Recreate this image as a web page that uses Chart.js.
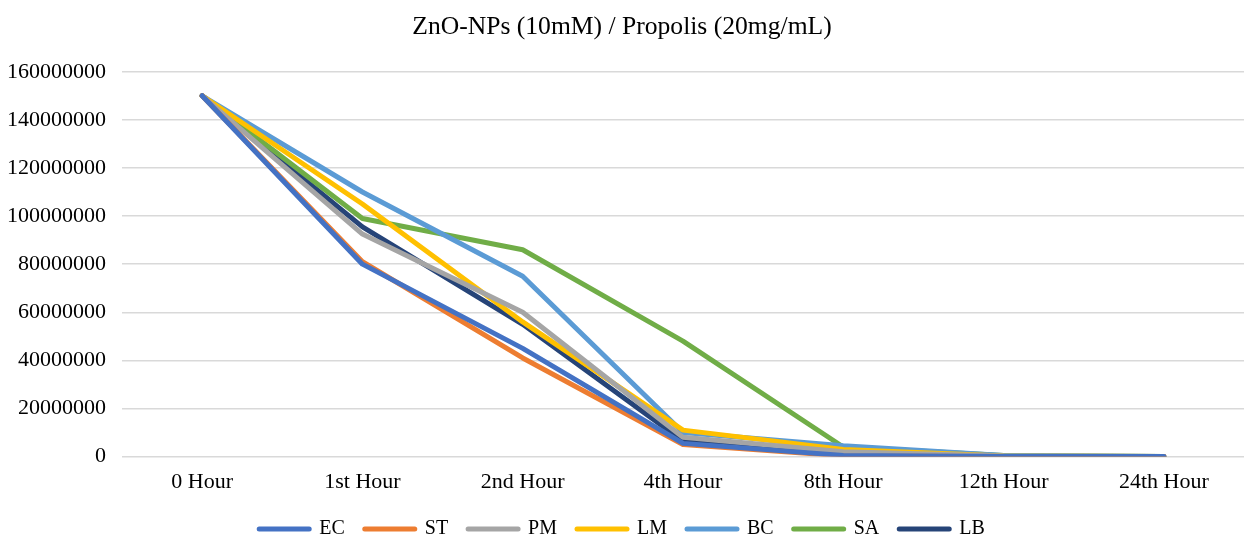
<!DOCTYPE html>
<html>
<head>
<meta charset="utf-8">
<script src="https://cdn.jsdelivr.net/npm/chart.js@4"></script>
<style>
  html, body { margin: 0; padding: 0; background: #fff; }
  #wrap { width: 1244px; height: 541px; }
</style>
</head>
<body>
<div id="wrap"><canvas id="grafico" width="1244" height="541"></canvas></div>
<script>
// valores
const horas = ['0 Hour', '1st Hour', '2nd Hour', '4th Hour', '8th Hour', '12th Hour', '24th Hour'];
const EC = [150000000, 80000000, 45000000, 5500000, 500000, 0, 0];
const ST = [150000000, 81000000, 41000000, 5000000, 300000, 0, 0];
const PM = [150000000, 92500000, 60000000, 8000000, 2000000, 200000, 0];
const LM = [150000000, 105000000, 56000000, 11000000, 3000000, 300000, 0];
const BC = [150000000, 110000000, 75000000, 10000000, 4500000, 500000, 0];
const SA = [150000000, 99000000, 86000000, 48000000, 4000000, 500000, 0];
const LB = [150000000, 95500000, 55000000, 6500000, 800000, 0, 0];
const yTicks = [0, 20000000, 40000000, 60000000, 80000000, 100000000, 120000000, 140000000, 160000000];

const fonte = 'Liberation Serif, Times New Roman, serif';

function serie(nome, valores, cor) {
  return {
    label: nome,
    data: valores,
    borderColor: cor,
    backgroundColor: cor,
    borderWidth: 5,
    borderCapStyle: 'round',
    borderJoinStyle: 'round',
    pointRadius: 0,
    tension: 0
  };
}

const config = {
  type: 'line',
  data: {
    labels: horas,
    datasets: [
      serie('EC', EC, '#4472C4'),
      serie('ST', ST, '#ED7D31'),
      serie('PM', PM, '#A5A5A5'),
      serie('LM', LM, '#FFC000'),
      serie('BC', BC, '#5B9BD5'),
      serie('SA', SA, '#70AD47'),
      serie('LB', LB, '#264478')
    ]
  },
  options: {
    responsive: false,
    animation: false,
    devicePixelRatio: 1,
    layout: { padding: { top: 12, right: 0, bottom: -8, left: 0 } },
    plugins: {
      title: {
        display: true,
        text: 'ZnO-NPs (10mM) / Propolis (20mg/mL)',
        color: '#000',
        font: { family: fonte, size: 25.6, weight: 'normal' },
        padding: { top: 0, bottom: 29 }
      },
      legend: {
        position: 'bottom',
        labels: {
          usePointStyle: true,
          pointStyle: 'line',
          pointStyleWidth: 50,
          boxWidth: 50,
          padding: 20,
          color: '#000',
          font: { family: fonte, size: 20 },
          generateLabels: chart => Chart.defaults.plugins.legend.labels.generateLabels(chart)
            .map(item => Object.assign(item, { lineCap: 'round', lineWidth: 5 }))
        }
      },
      tooltip: { enabled: false }
    },
    scales: {
      x: {
        offset: true,
        grid: { display: false },
        border: { display: false },
        ticks: { color: '#000', font: { family: fonte, size: 22 }, padding: 4, maxRotation: 0 }
      },
      y: {
        min: 0,
        max: 160000000,
        afterFit: s => { s.width = 122; },
        afterBuildTicks: s => { s.ticks = yTicks.map(v => ({ value: v })); },
        grid: { color: '#d9d9d9', lineWidth: 1.5, drawTicks: false },
        border: { display: false },
        ticks: {
          color: '#000',
          font: { family: fonte, size: 22 },
          padding: 16,
          callback: v => String(v)
        }
      }
    }
  }
};

new Chart(document.getElementById('grafico'), config);
</script>
</body>
</html>
